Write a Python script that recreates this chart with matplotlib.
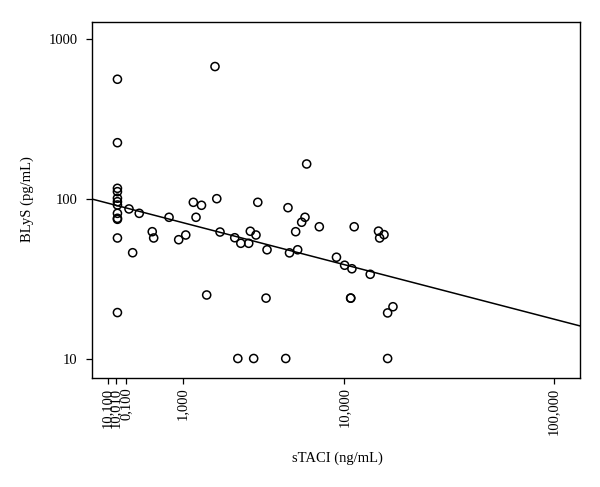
import matplotlib
matplotlib.use("Agg")
import matplotlib.pyplot as plt
import numpy as np

plt.rcParams['font.family'] = ['Liberation Serif', 'DejaVu Serif']

# sTACI (ng/mL) and BLyS (pg/mL)
staci = [324, 324, 324, 324, 324, 324, 324, 324, 324, 324, 324, 324,
         400, 427, 480, 602, 617, 800, 938, 1052, 1188, 1240, 1352, 1466,
         1667, 1713, 1800, 2245, 2350, 2456, 2756, 2820, 2960, 3060, 3140,
         3530, 3580, 4640, 4785, 4885, 5310, 5455, 5755, 6015, 6150, 7260,
         9050, 10030, 10810, 10830, 10985, 11300, 13750, 15190, 15400,
         16220, 16930, 16930, 18030]
blys = [562, 225, 116.5, 111, 101, 96, 91.6, 81.2, 75.6, 74.5, 56.9, 19.4,
        86.5, 46.0, 81.2, 62.3, 56.9, 76.7, 55.5, 59.4, 95.2, 76.7, 91.2, 25.0,
        675, 100.3, 62.0, 57.1, 10, 52.7, 52.7, 62.7, 10, 59.4, 95.2,
        23.9, 48.0, 10, 88.1, 45.9, 62.3, 48.0, 71.4, 76.7, 165.5, 66.9,
        43.1, 38.4, 23.9, 23.9, 36.5, 66.9, 33.7, 62.8, 56.9,
        59.7, 19.3, 10, 21.1]

# regression line end points
fit_x = [199, 128400]
fit_y = [99.9, 16.0]

xtick_vals = [270, 314, 377, 1000, 10000, 100000]
xtick_labels = ["10,100", "10,010", "0,100", "1,000", "10,000", "100,000"]
ytick_vals = [10, 100, 1000]
ytick_labels = ["10", "100", "1000"]

p = 0.1122

def fwd(x):
    return np.power(np.clip(x, 1e-9, None), p)

def inv(u):
    return np.power(np.clip(u, 1e-9, None), 1.0 / p)

fig = plt.figure(figsize=(6.0, 4.87), dpi=100)
ax = fig.add_axes([91.7 / 600, (487 - 377.7) / 487, (580 - 91.7) / 600, (377.7 - 22) / 487])
ax.set_xscale('function', functions=(fwd, inv))
ax.set_yscale('log')

ax.set_xlim(199, 128400)
ax.set_ylim(10 ** (1 - (377.7 - 358.5) / 159.6), 10 ** (3 + (39.3 - 22) / 159.6))

ax.plot(fit_x, fit_y, color='black', lw=1.1, zorder=2)
ax.scatter(staci, blys, s=34, facecolors='none', edgecolors='black', linewidths=1.1, zorder=3)

ax.set_xticks(xtick_vals)
ax.set_xticklabels(xtick_labels, rotation=90, fontsize=10.5)
ax.set_yticks(ytick_vals)
ax.set_yticklabels(ytick_labels, fontsize=10.5)
ax.minorticks_off()
ax.xaxis.set_minor_locator(matplotlib.ticker.NullLocator())
ax.yaxis.set_minor_locator(matplotlib.ticker.NullLocator())
ax.tick_params(axis='x', direction='out', length=4, width=0.9, pad=3)
ax.tick_params(axis='y', direction='out', length=4, width=0.9, pad=6)

for s in ax.spines.values():
    s.set_linewidth(1.0)

ax.set_xlabel("sTACI (ng/mL)", fontsize=10.5, va='center')
ax.set_ylabel("BLyS (pg/mL)", fontsize=10.5, va='center')
ax.xaxis.set_label_coords((337 - 91.7) / 488.3, (377.7 - 458) / 355.7)
ax.yaxis.set_label_coords((27 - 91.7) / 488.3, (377.7 - 199) / 355.7)

fig.savefig("out.png", dpi=100)
